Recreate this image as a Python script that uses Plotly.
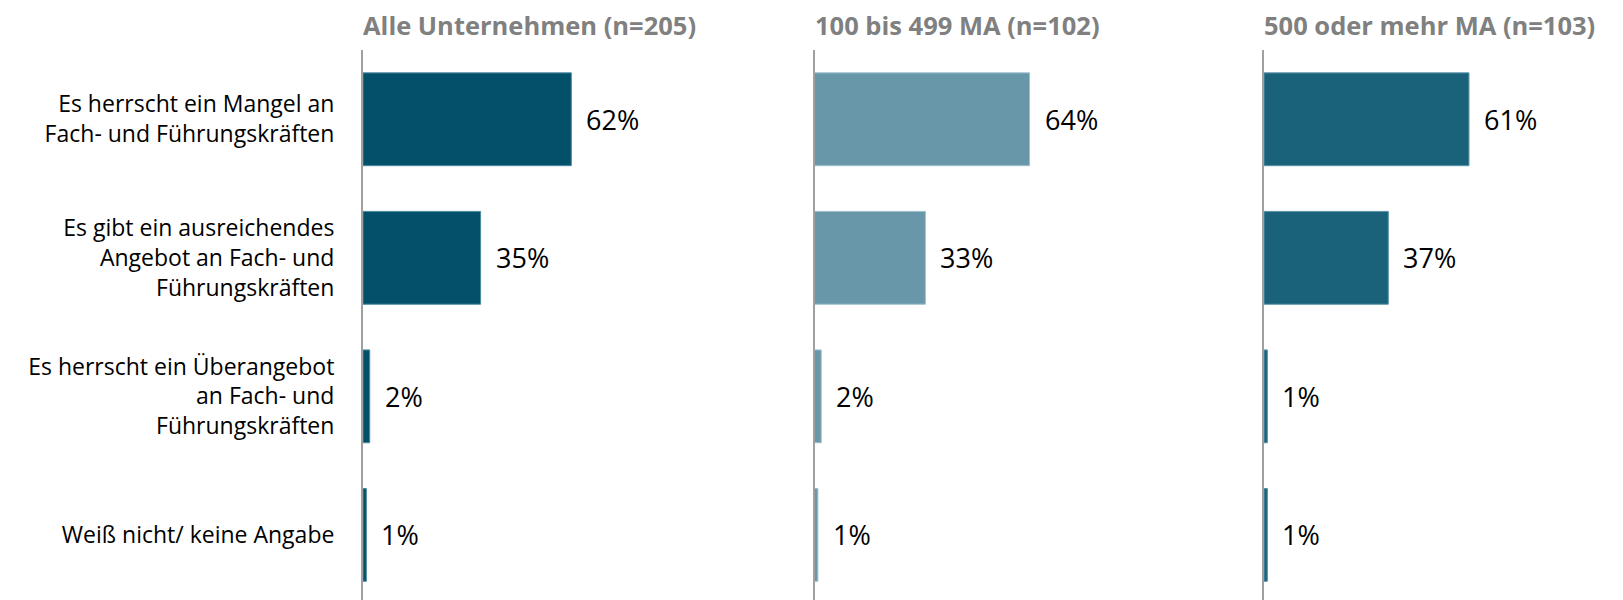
import plotly.graph_objects as go
from plotly.subplots import make_subplots

categories = [
    "Es herrscht ein Mangel an<br>Fach- und Führungskräften",
    "Es gibt ein ausreichendes<br>Angebot an Fach- und<br>Führungskräften",
    "Es herrscht ein Überangebot<br>an Fach- und<br>Führungskräften",
    "Weiß nicht/ keine Angabe",
]
panel_titles = ["Alle Unternehmen (n=205)", "100 bis 499 MA (n=102)", "500 oder mehr MA (n=103)"]
values_all = [62, 35, 2, 1]
values_small = [64, 33, 2, 1]
values_large = [61, 37, 1, 1]
colors = ["#03506B", "#6897A9", "#1A627A"]
edge_colors = ["#4d8aa0", "#9fc0cc", "#5a93a8"]

series = [values_all, values_small, values_large]

FONT = "Open Sans"
fig = make_subplots(rows=1, cols=3, shared_yaxes=False, horizontal_spacing=0.0)

W = 1251.0
starts = [0, 451.5, 901]
pw = 350
for i, vals in enumerate(series):
    fig.add_trace(go.Bar(
        x=vals, y=list(range(len(categories))), orientation="h",
        marker=dict(color=colors[i], line=dict(color=edge_colors[i], width=1)),
        width=0.67, showlegend=False, hoverinfo="skip",
    ), row=1, col=i + 1)
    xa = "x" if i == 0 else f"x{i+1}"
    ya = "y" if i == 0 else f"y{i+1}"
    for j, v in enumerate(vals):
        fig.add_annotation(x=v, y=j, xref=xa, yref=ya, text=f"{v}%", showarrow=False,
                           xanchor="left", xshift=13, yanchor="middle",
                           font=dict(family=FONT, size=27, color="#000000"))
    fig.add_annotation(x=starts[i] / W, y=1, xref="paper", yref="paper", text=f"<b>{panel_titles[i]}</b>",
                       showarrow=False, xanchor="left", yanchor="middle", yshift=25, xshift=-2,
                       font=dict(family=FONT, size=25.5, color="#808080"))

for i in range(3):
    dom = [starts[i] / W, (starts[i] + pw) / W]
    fig.update_xaxes(domain=dom, range=[0, pw / 3.36], visible=False, automargin=False, row=1, col=i + 1)
    fig.update_yaxes(range=[3.47, -0.5], showline=True, linecolor="#A0A0A0", linewidth=2,
                     showgrid=False, zeroline=False, automargin=False, row=1, col=i + 1,
                     tickvals=list(range(len(categories))), ticktext=categories,
                     showticklabels=(i == 0), ticks="", ticklabelstandoff=22,
                     tickfont=dict(family=FONT, size=23, color="#000000"))

fig.update_layout(
    width=1623, height=600,
    margin=dict(l=355, r=17, t=42, b=8),
    plot_bgcolor="white", paper_bgcolor="white",
    font=dict(family=FONT),
)

fig.write_html("out.html")
